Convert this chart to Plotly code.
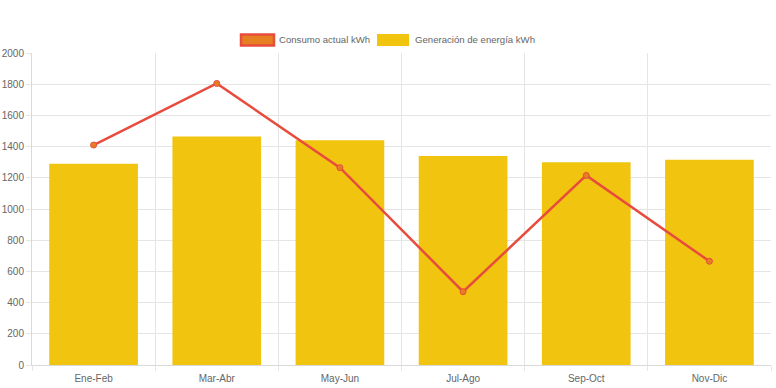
import plotly.graph_objects as go

categories = ["Ene-Feb", "Mar-Abr", "May-Jun", "Jul-Ago", "Sep-Oct", "Nov-Dic"]
consumo = [1410, 1805, 1265, 470, 1215, 665]
generacion = [1290, 1465, 1440, 1340, 1300, 1315]
y_ticks = [0, 200, 400, 600, 800, 1000, 1200, 1400, 1600, 1800, 2000]

RED = "#E74C3C"
ORANGE = "#E67E22"
YELLOW = "#F1C40F"
GRID = "#e5e5e5"
FONT = "Liberation Sans, Arial, sans-serif"

L, R, T, B = 32, 5, 53, 23
PW, PH = 776 - L - R, 388 - T - B


def px(x):
    return (x - L) / PW


def py(y):
    return (388 - B - y) / PH


fig = go.Figure()
fig.add_trace(go.Bar(
    x=categories, y=generacion, name="Generación de energía kWh",
    marker=dict(color=YELLOW, line=dict(width=0)), showlegend=False,
))
fig.add_trace(go.Scatter(
    x=categories, y=consumo, name="Consumo actual kWh", mode="lines+markers",
    line=dict(color=RED, width=2.5),
    marker=dict(size=6, color=ORANGE, line=dict(color=RED, width=1)),
    showlegend=False,
))

fig.update_layout(
    width=776, height=388,
    margin=dict(l=L, r=R, t=T, b=B, autoexpand=False),
    paper_bgcolor="white", plot_bgcolor="white",
    bargap=0.28,
    font=dict(family=FONT, size=10, color="#666666"),
    xaxis=dict(
        type="category", tickson="boundaries", showgrid=True, gridcolor=GRID, gridwidth=1,
        ticks="outside", ticklen=5, tickcolor=GRID, showline=True, linecolor="#d9d9d9",
        range=[-0.5, 5.5], tickfont=dict(size=10, color="#666666"), automargin=False,
        ticklabelstandoff=4,
    ),
    yaxis=dict(
        range=[0, 2000], tickvals=y_ticks, showgrid=True, gridcolor=GRID, gridwidth=1,
        ticks="outside", ticklen=5, tickcolor=GRID, showline=True, linecolor="#d9d9d9",
        zeroline=False, tickfont=dict(size=10, color="#666666"), automargin=False,
    ),
    shapes=[
        dict(type="rect", xref="paper", yref="paper", x0=px(241), x1=px(274),
             y0=py(45.5), y1=py(34.5), fillcolor=ORANGE, line=dict(color=RED, width=2.5)),
        dict(type="rect", xref="paper", yref="paper", x0=px(377), x1=px(409),
             y0=py(46), y1=py(34), fillcolor=YELLOW, line=dict(width=0)),
    ],
    annotations=[
        dict(text="Consumo actual kWh", xref="paper", yref="paper", x=px(277), y=py(40),
             xanchor="left", yanchor="middle", showarrow=False, font=dict(size=9.6, color="#666666")),
        dict(text="Generación de energía kWh", xref="paper", yref="paper", x=px(413), y=py(40),
             xanchor="left", yanchor="middle", showarrow=False, font=dict(size=9.6, color="#666666")),
    ],
)

fig.write_html(
    "out.html",
    config={"displayModeBar": False},
    post_script="document.body.style.margin='0';document.body.style.overflow='hidden';",
)
